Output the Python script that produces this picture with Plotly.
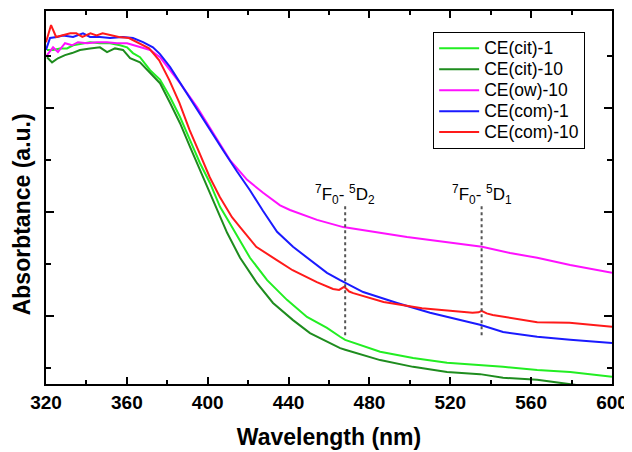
import plotly.graph_objects as go

# ---- data ----
names = ["CE(cit)-1", "CE(cit)-10", "CE(ow)-10", "CE(com)-1", "CE(com)-10"]
colors = ["#22ee22", "#1e8c1e", "#ff11ff", "#1a1aff", "#ff1a1a"]

cit1_wl = [320.5, 323.5, 326.9, 330.4, 333.4, 338.3, 341.8, 346.7, 351.7, 356.6, 360.1, 363, 366.5, 371.5,
           376.4, 381.4, 386.3, 391.3, 396.2, 401.1, 406.1, 411, 414.5, 420.9, 429.4, 439.2, 449.1, 459,
           465.5, 468, 485.3, 501.6, 518.4, 534.7, 546.1, 563, 579.3, 600]
cit1_y = [6.12, 6.12, 6.15, 6.15, 6.21, 6.25, 6.27, 6.25, 6.25, 6.21, 6.17, 6.06, 5.98, 5.73,
          5.55, 5.21, 4.83, 4.38, 3.94, 3.56, 3.10, 2.78, 2.55, 2.12, 1.69, 1.31, 0.98, 0.77,
          0.60, 0.54, 0.31, 0.19, 0.10, 0.06, 0.02, -0.04, -0.08, -0.17]

cit10_wl = [320.5, 323, 325.9, 329.4, 332.9, 336.8, 341.8, 346.7, 350.2, 354.1, 358.1, 361.6, 366.5, 371.5,
            376.4, 381.4, 386.3, 391.3, 396.2, 401.1, 406.1, 409.6, 416, 424.4, 432.3, 442.2, 450.6, 459,
            465.5, 468, 485.3, 501.6, 518.4, 534.7, 546.1, 563, 575.8, 600]
cit10_y = [5.98, 5.88, 5.96, 6.02, 6.06, 6.12, 6.15, 6.17, 6.08, 6.15, 6.12, 5.96, 5.88, 5.67,
           5.48, 5.10, 4.71, 4.25, 3.81, 3.37, 2.90, 2.60, 2.12, 1.63, 1.25, 0.92, 0.67, 0.50,
           0.38, 0.35, 0.15, 0.02, -0.08, -0.12, -0.19, -0.23, -0.29, -0.42]

ow10_wl = [320.5, 323.5, 325.9, 329.4, 332.9, 335.8, 340.3, 345.2, 350.2, 355.1, 360.1, 366.5, 371.5, 376.4,
           386.3, 394.7, 402.6, 411, 419.5, 427.4, 435.8, 440.7, 454.1, 467, 498.6, 535.7, 549.6, 563,
           579.3, 600]
ow10_y = [6.02, 6.17, 6.08, 6.25, 6.21, 6.27, 6.25, 6.27, 6.27, 6.25, 6.25, 6.17, 6.12, 5.98,
          5.48, 5.02, 4.52, 4.00, 3.62, 3.37, 3.13, 3.04, 2.85, 2.71, 2.52, 2.33, 2.21, 2.12,
          1.98, 1.83]

com1_wl = [320, 322, 325.4, 328.4, 333.4, 338.3, 341.8, 346.7, 351.7, 358, 363, 368, 372.9, 376.4,
           381.4, 387.8, 394.7, 401.1, 407.6, 414.5, 420.9, 427.4, 434.3, 442.2, 450.6, 459, 465.5,
           476.9, 493.7, 510, 534.7, 546.1, 563, 579.3, 600]
com1_y = [6.12, 6.35, 6.37, 6.40, 6.37, 6.44, 6.37, 6.37, 6.35, 6.37, 6.35, 6.27, 6.17, 6.04,
          5.79, 5.40, 4.96, 4.58, 4.19, 3.78, 3.42, 3.02, 2.62, 2.33, 2.08, 1.83, 1.69,
          1.46, 1.25, 1.06, 0.83, 0.69, 0.60, 0.54, 0.48]

com10_wl = [320, 322.5, 325, 328, 332, 335, 338, 342, 345, 348, 352, 356, 361, 366, 371, 376, 381, 386,
            391, 396, 401, 406, 412, 416, 424, 434, 442, 454, 462, 465, 467.5, 470, 472, 487, 506, 531,
            534, 535.5, 538, 541, 550, 563, 579, 600]
com10_y = [6.27, 6.60, 6.37, 6.40, 6.44, 6.44, 6.37, 6.44, 6.40, 6.44, 6.40, 6.37, 6.35, 6.25, 6.15, 5.92,
           5.54, 5.10, 4.58, 4.13, 3.67, 3.29, 2.90, 2.71, 2.33, 2.08, 1.88, 1.65, 1.52, 1.50, 1.56, 1.47,
           1.44, 1.27, 1.15, 1.06, 1.07, 1.10, 1.05, 1.02, 0.96, 0.88, 0.87, 0.79]

series_wl = [cit1_wl, cit10_wl, ow10_wl, com1_wl, com10_wl]
series_y = [cit1_y, cit10_y, ow10_y, com1_y, com10_y]

transition_wl = [468, 535.5]
transition_y0 = [0.63, 0.63]
transition_y1 = [3.17, 3.17]
transition_labels = ["<sup>7</sup>F<sub>0</sub>- <sup>5</sup>D<sub>2</sub>",
                     "<sup>7</sup>F<sub>0</sub>- <sup>5</sup>D<sub>1</sub>"]
label_y = [3.34, 3.34]

x_ticks = [320, 360, 400, 440, 480, 520, 560, 600]

FONT = "Arial, Liberation Sans, sans-serif"

fig = go.Figure()
for n, c, xs, ys in zip(names, colors, series_wl, series_y):
    fig.add_trace(go.Scatter(x=xs, y=ys, name='<span style="font-size:17.5px">' + n + '</span>',
                             mode="lines", line=dict(color=c, width=2)))

for wl, y0, y1, lab, ly in zip(transition_wl, transition_y0, transition_y1, transition_labels, label_y):
    fig.add_shape(type="line", xref="x", yref="y", x0=wl, x1=wl, y0=y0, y1=y1,
                  line=dict(color="#555555", width=2, dash="dot"))
    fig.add_annotation(x=wl, y=ly, xref="x", yref="y", text=lab, showarrow=False,
                       font=dict(family=FONT, size=17, color="black"),
                       xanchor="center", yanchor="middle")

# y-axis title (placed slightly below the plot centre, as in the reference)
fig.add_annotation(x=-0.0424, y=0.455, xref="paper", yref="paper", text="<b>Absorbtance (a.u.)</b>",
                   textangle=-90, showarrow=False, xanchor="center", yanchor="middle",
                   font=dict(family=FONT, size=23, color="black"))

# the page body adds an 8px offset, so the figure is sized to fit the 632x452 window
fig.update_layout(
    width=624, height=444,
    margin=dict(l=38, r=20, t=3, b=68),
    paper_bgcolor="white", plot_bgcolor="white",
    font=dict(family=FONT, color="black"),
    legend=dict(x=0.684, y=0.944, xanchor="left", yanchor="top",
                bordercolor="black", borderwidth=1, bgcolor="white",
                font=dict(family=FONT, size=13.8, color="black"),
                tracegroupgap=0, itemwidth=40),
    xaxis=dict(range=[320, 600], tickvals=x_ticks, ticks="inside", ticklen=7, tickwidth=1.5,
               tickcolor="black", showline=True, linecolor="black", linewidth=2, mirror="allticks",
               showgrid=False, zeroline=False, automargin=False,
               tickfont=dict(family=FONT, size=19, color="black", weight="bold"),
               minor=dict(dtick=20, ticks="inside", ticklen=4, tickwidth=1.5, tickcolor="black"),
               title=dict(text="<b>Wavelength (nm)</b>", font=dict(family=FONT, size=23), standoff=17)),
    yaxis=dict(range=[-0.31, 6.87], tick0=1, dtick=2, ticks="inside", ticklen=8, tickwidth=1.5,
               tickcolor="black", showline=True, linecolor="black", linewidth=2, mirror="allticks",
               showgrid=False, zeroline=False, showticklabels=False, automargin=False,
               minor=dict(tick0=0, dtick=2, ticks="inside", ticklen=5, tickwidth=1.5, tickcolor="black")),
)

fig.write_html("out.html")
